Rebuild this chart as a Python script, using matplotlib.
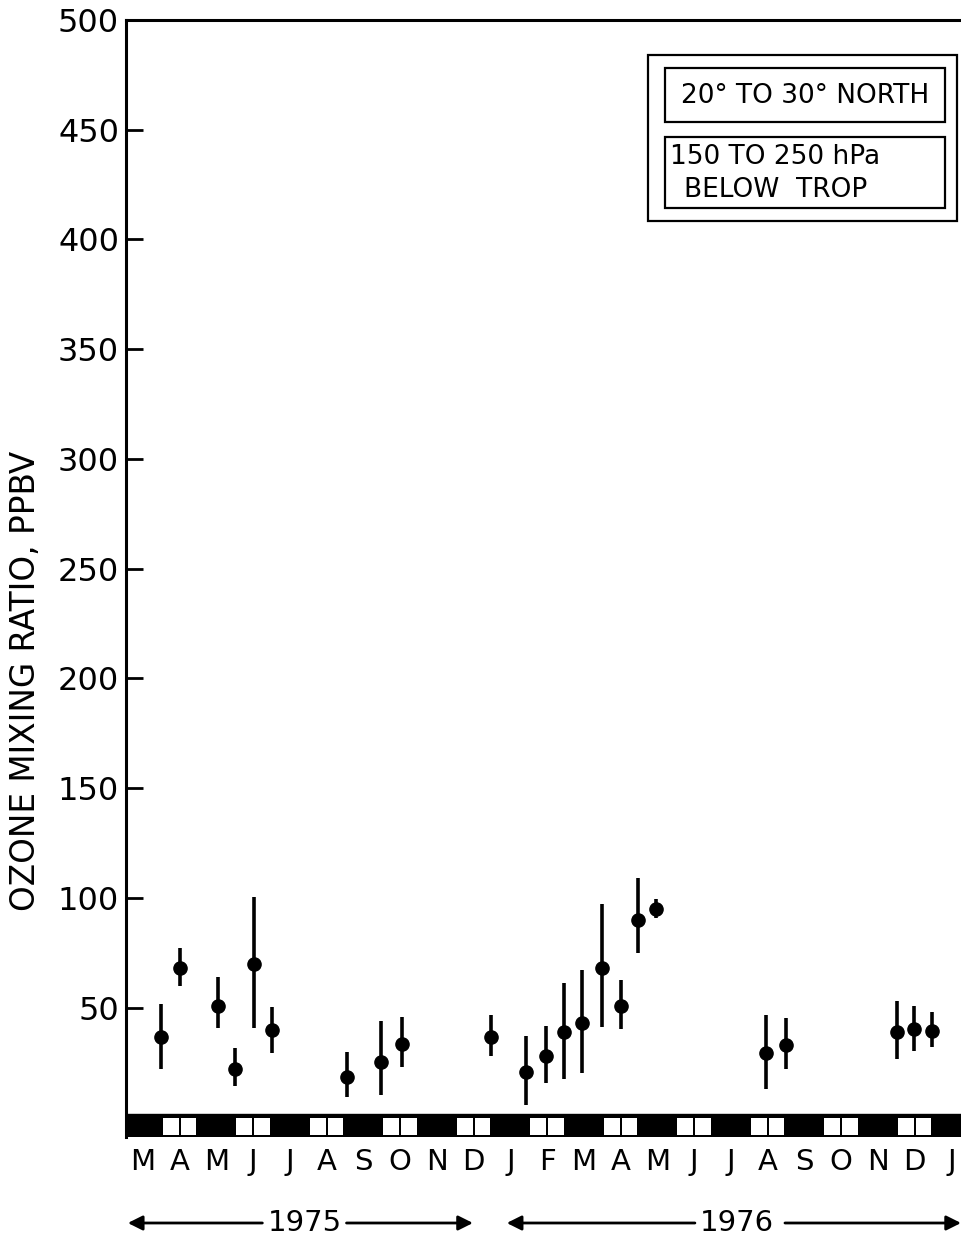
import matplotlib
matplotlib.use('Agg')
import matplotlib.pyplot as plt
from matplotlib.patches import Rectangle
from matplotlib.transforms import blended_transform_factory

# month index: 0 = March 1975 ... 22 = January 1977
months = ['M', 'A', 'M', 'J', 'J', 'A', 'S', 'O', 'N', 'D', 'J',
          'F', 'M', 'A', 'M', 'J', 'J', 'A', 'S', 'O', 'N', 'D', 'J']
flight_months = [1, 3, 5, 7, 9, 11, 13, 15, 17, 19, 21]

x_pos = [0.49, 1.01, 2.04, 2.50, 3.02, 3.51, 5.54, 6.49, 7.04, 9.48, 10.43, 10.98,
         11.47, 11.96, 12.50, 13.02, 13.48, 13.97, 16.96, 17.50, 20.52, 20.98, 21.47]
ozone = [36.4, 67.9, 50.5, 21.9, 69.7, 39.6, 18.2, 25.0, 33.2, 36.4, 20.5, 27.8,
         38.7, 42.8, 67.9, 50.5, 89.7, 94.7, 29.1, 32.8, 38.7, 40.0, 39.2]
ozone_hi = [51.5, 77.0, 63.8, 31.4, 100.2, 50.1, 29.6, 43.7, 45.5, 46.4, 36.9, 41.4,
            61.0, 66.9, 97.4, 62.4, 108.8, 99.3, 46.4, 45.1, 52.8, 50.5, 47.8]
ozone_lo = [21.9, 60.0, 40.5, 14.1, 40.5, 29.1, 9.1, 10.0, 22.8, 27.8, 5.5, 15.5,
            17.3, 20.0, 41.0, 40.0, 74.7, 90.6, 12.8, 21.9, 26.4, 30.0, 31.9]
yticks = [50, 100, 150, 200, 250, 300, 350, 400, 450, 500]

W, H = 961, 1237
fig = plt.figure(figsize=(W / 100, H / 100), dpi=100)

def fx(px):
    return px / W

def fy(py):
    return 1 - py / H

ax = fig.add_axes([fx(126), fy(1137), 1 - fx(126), (1137 - 20) / H])
ax.set_xlim(-0.46, 22.26)
ax.set_ylim(-9, 500)

# black strip with white flight squares
ax.axhspan(-9, 1.3, color='black', zorder=3)
for m in flight_months:
    for dx in (-0.455, 0.025):
        ax.add_patch(Rectangle((m + dx, -8.2), 0.43, 7.7, facecolor='white',
                               edgecolor='none', zorder=4))

err_lo = [o - l for o, l in zip(ozone, ozone_lo)]
err_hi = [h - o for o, h in zip(ozone, ozone_hi)]
ax.errorbar(x_pos, ozone, yerr=[err_lo, err_hi], fmt='o', color='black',
            ms=9.5, elinewidth=2.6, capsize=0, zorder=5)

for s in ['right', 'bottom']:
    ax.spines[s].set_visible(False)
for s in ['left', 'top']:
    ax.spines[s].set_linewidth(2.2)

ax.set_yticks(yticks)
ax.set_yticklabels([str(v) for v in yticks])
ax.tick_params(axis='y', direction='in', length=12, width=2, pad=5, labelsize=23)
ax.set_xticks(range(len(months)))
ax.set_xticklabels(months)
ax.tick_params(axis='x', length=0, pad=8, labelsize=21)

fig.text(fx(26), fy(681), 'OZONE MIXING RATIO, PPBV', rotation=90,
         ha='center', va='center', fontsize=23.5)

# year arrows below the month axis
tr = blended_transform_factory(ax.transData, fig.transFigure)
yy = fy(1223)
arrow = dict(arrowstyle='-|>', lw=2, color='black', mutation_scale=22,
             shrinkA=0, shrinkB=0)
for label, xc, x0, x1, g0, g1 in [('1975', 4.41, -0.41, 8.98, 3.25, 5.54),
                                  ('1976', 16.16, 9.90, 22.26, 15.02, 17.47)]:
    ax.text(xc, yy, label, transform=tr, ha='center', va='center', fontsize=21)
    ax.annotate('', xy=(x0, yy), xytext=(g0, yy), xycoords=tr, textcoords=tr,
                arrowprops=arrow, annotation_clip=False)
    ax.annotate('', xy=(x1, yy), xytext=(g1, yy), xycoords=tr, textcoords=tr,
                arrowprops=arrow, annotation_clip=False)

# legend boxes
for (x0, y0, x1, y1) in [(648, 55, 957, 221), (665, 68, 945, 122), (665, 137, 945, 208)]:
    fig.patches.append(Rectangle((fx(x0), fy(y1)), fx(x1 - x0), (y1 - y0) / H,
                                 transform=fig.transFigure, fill=False,
                                 edgecolor='black', lw=1.6))
fig.text(fx(805), fy(96), '20° TO 30° NORTH', ha='center', va='center', fontsize=19)
fig.text(fx(670), fy(157), '150 TO 250 hPa', ha='left', va='center', fontsize=19)
fig.text(fx(684), fy(190), 'BELOW  TROP', ha='left', va='center', fontsize=19)

fig.savefig('out.png', dpi=100)
